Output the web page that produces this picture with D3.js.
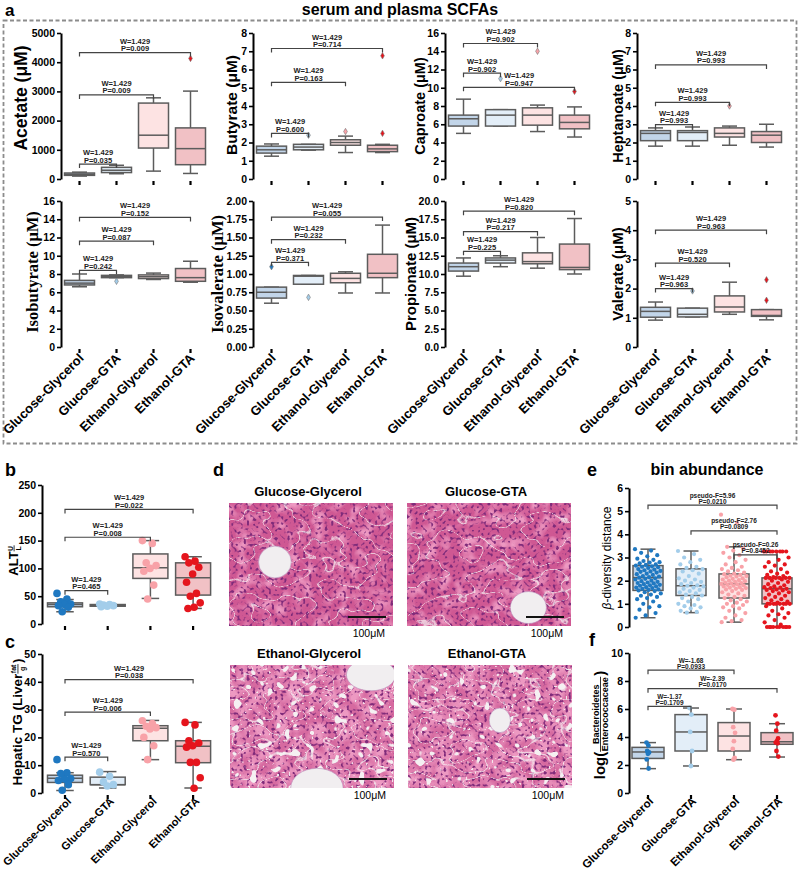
<!DOCTYPE html>
<html>
<head>
<meta charset="utf-8">
<script src="https://cdn.jsdelivr.net/npm/d3@7"></script>
<style>
  body { margin: 0; background: #fff; }
  svg { font-family: "Liberation Sans", Arial, sans-serif; }
</style>
</head>
<body>
<svg id="fig" width="800" height="870"></svg>
<script>
// ---------- data ----------
var groups = ["Glucose-Glycerol", "Glucose-GTA", "Ethanol-Glycerol", "Ethanol-GTA"];
var W = "W=1.429";

// box stats per group: [low whisker, q1, median, q3, high whisker]
var acetateStats = [[100, 125, 160, 205, 235], [180, 220, 300, 400, 470], [270, 1060, 1500, 2600, 2780], [190, 490, 1040, 1750, 3010]];
var acetateOut = [[], [], [], [4130]];
var acetateBr = [[0, 1, 510, W, "P=0.035"], [0, 2, 2880, W, "P=0.009"], [0, 3, 4330, W, "P=0.009"]];

var butyrateStats = [[1.25, 1.42, 1.6, 1.8, 1.92], [1.58, 1.6, 1.75, 1.9, 1.9], [1.45, 1.85, 2.0, 2.15, 2.35], [1.45, 1.5, 1.65, 1.85, 1.9]];
var butyrateOut = [[], [2.4], [2.6], [2.5, 6.75]];
var butyrateBr = [[0, 1, 2.5, W, "P=0.600"], [0, 2, 5.3, W, "P=0.163"], [0, 3, 7.15, W, "P=0.714"]];

var caproateStats = [[5.0, 5.8, 6.6, 7.0, 8.75], [5.8, 5.8, 7.0, 7.6, 7.6], [5.2, 5.9, 7.0, 7.8, 8.1], [4.6, 5.5, 6.2, 7.0, 7.9]];
var caproateOut = [[], [11.0], [14.0], [9.6]];
var caproateBr = [[0, 2, 14.85, W, "P=0.902"], [0, 1, 11.6, W, "P=0.902"], [0, 3, 10.05, W, "P=0.947"]];

var heptanoateStats = [[1.8, 2.1, 2.5, 2.65, 2.8], [1.8, 2.1, 2.55, 2.65, 2.85], [1.85, 2.3, 2.5, 2.8, 2.9], [1.75, 2.0, 2.4, 2.6, 3.0]];
var heptanoateOut = [[], [], [4.0], []];
var heptanoateBr = [[0, 1, 2.98, W, "P=0.993"], [0, 2, 4.2, W, "P=0.993"], [0, 3, 6.25, W, "P=0.993"]];

var isobutyrateStats = [[6.6, 6.8, 7.0, 7.3, 8.0], [7.6, 7.6, 7.7, 7.85, 7.9], [7.4, 7.5, 7.7, 7.9, 8.1], [7.1, 7.2, 7.6, 8.6, 9.4]];
var isobutyrateOut = [[], [7.2], [], []];
var isobutyrateBr = [[0, 1, 8.4, W, "P=0.242"], [0, 2, 11.6, W, "P=0.087"], [0, 3, 14.2, W, "P=0.152"]];

var isovalerateStats = [[0.6, 0.67, 0.75, 0.82, 0.82], [0.86, 0.86, 0.97, 0.98, 0.98], [0.74, 0.88, 0.94, 1.01, 1.03], [0.74, 0.95, 1.01, 1.27, 1.67]];
var isovalerateOut = [[1.1], [0.68], [], []];
var isovalerateBr = [[0, 1, 1.16, W, "P=0.371"], [0, 2, 1.47, W, "P=0.232"], [0, 3, 1.78, W, "P=0.055"]];

var propionateStats = [[9.7, 10.4, 11.0, 11.5, 12.2], [11.0, 11.5, 11.9, 12.2, 12.5], [10.8, 11.4, 11.7, 12.9, 15.0], [10.0, 10.6, 10.9, 14.1, 17.6]];
var propionateOut = [[], [], [], []];
var propionateBr = [[0, 1, 13.1, W, "P=0.225"], [0, 2, 15.8, W, "P=0.217"], [0, 3, 18.6, W, "P=0.820"]];

var valerateStats = [[0.92, 1.02, 1.22, 1.36, 1.54], [1.03, 1.03, 1.12, 1.33, 1.33], [1.12, 1.2, 1.37, 1.75, 2.22], [0.93, 1.05, 1.08, 1.28, 1.28]];
var valerateOut = [[], [1.92], [], [1.6, 2.3]];
var valerateBr = [[0, 1, 2.0, W, "P=0.963"], [0, 2, 2.87, W, "P=0.520"], [0, 3, 4.0, W, "P=0.963"]];

// b: ALT
var altStats = [[22, 31, 35, 38, 44], [31, 32, 33, 35, 36], [46, 82, 101, 126, 150], [28, 52, 83, 110, 121]];
var altPoints = [[55, 45, 40, 36, 35, 33, 30, 22], [36, 35, 34, 33, 32, 31], [150, 145, 110, 105, 100, 95, 70, 45], [121, 113, 110, 102, 90, 75, 55, 50, 38, 30, 28]];
var altBr = [[0, 1, 60, W, "P=0.465"], [0, 2, 156, W, "P=0.008"], [0, 3, 206, W, "P=0.022"]];

// c: hepatic TG
var tgStats = [[0.9, 3.8, 5.3, 6.4, 7.3], [1.8, 3.0, 3.0, 5.7, 7.7], [12, 18.8, 23.3, 24.2, 26.1], [1.8, 10.9, 16.8, 18.8, 25.4]];
var tgPoints = [[12, 7.3, 7, 5.2, 5, 4.5, 3, 1], [7.5, 6, 4, 3, 2.5], [26, 25, 24, 23.5, 23, 20, 17, 12], [25.4, 24.5, 18.8, 18, 17, 16.5, 11, 11, 5.5, 1.7]];
var tgBr = [[0, 1, 12.9, W, "P=0.570"], [0, 2, 29.1, W, "P=0.006"], [0, 3, 40.8, W, "P=0.038"]];

// e: beta-diversity distance
var betaStats = [[0.4, 1.58, 2.13, 2.65, 3.36], [0.62, 1.36, 1.78, 2.51, 3.28], [0.21, 1.25, 1.86, 2.29, 3.46], [0, 1.0, 1.65, 2.12, 3.26]];
var betaPoints = [
  [3.36, 3.3, 3.2, 3.1, 3.05, 2.95, 2.9, 2.85, 2.8, 2.78, 2.75, 2.7, 2.68, 2.65, 2.62, 2.6, 2.58, 2.55, 2.5, 2.48, 2.45, 2.42, 2.4, 2.38, 2.35, 2.3, 2.28, 2.25, 2.2, 2.18, 2.15, 2.13, 2.1, 2.08, 2.05, 2.0, 1.98, 1.95, 1.92, 1.9, 1.88, 1.85, 1.82, 1.8, 1.78, 1.75, 1.72, 1.7, 1.68, 1.65, 1.62, 1.6, 1.58, 1.55, 1.5, 1.45, 1.4, 1.35, 1.3, 1.25, 1.2, 1.1, 1.0, 0.9, 0.85, 0.75, 0.6, 0.5, 0.4],
  [3.28, 3.15, 3.0, 2.9, 2.8, 2.7, 2.6, 2.55, 2.5, 2.45, 2.4, 2.3, 2.2, 2.1, 2.05, 2.0, 1.95, 1.9, 1.85, 1.8, 1.78, 1.75, 1.7, 1.65, 1.6, 1.55, 1.5, 1.45, 1.4, 1.36, 1.3, 1.25, 1.2, 1.1, 1.0, 0.95, 0.9, 0.85, 0.8, 0.7, 0.65, 0.62],
  [4.85, 4.5, 3.46, 3.4, 3.3, 3.2, 3.1, 3.0, 2.9, 2.8, 2.7, 2.6, 2.55, 2.5, 2.45, 2.4, 2.35, 2.3, 2.28, 2.25, 2.22, 2.2, 2.18, 2.15, 2.1, 2.08, 2.05, 2.02, 2.0, 1.98, 1.95, 1.92, 1.9, 1.88, 1.86, 1.84, 1.82, 1.8, 1.78, 1.75, 1.72, 1.7, 1.68, 1.65, 1.62, 1.6, 1.55, 1.5, 1.45, 1.4, 1.35, 1.3, 1.25, 1.2, 1.15, 1.1, 1.05, 1.0, 0.95, 0.9, 0.85, 0.8, 0.7, 0.6, 0.5, 0.4, 0.3, 0.25, 0.21],
  [3.26, 3.26, 3.26, 3.26, 3.26, 3.26, 3.26, 3.26, 3.0, 2.9, 2.8, 2.7, 2.65, 2.6, 2.5, 2.4, 2.35, 2.3, 2.25, 2.2, 2.15, 2.12, 2.12, 2.12, 2.12, 2.12, 2.12, 2.05, 2.0, 1.95, 1.9, 1.85, 1.8, 1.75, 1.72, 1.7, 1.68, 1.65, 1.62, 1.6, 1.58, 1.55, 1.5, 1.45, 1.4, 1.35, 1.3, 1.25, 1.2, 1.15, 1.1, 1.05, 1.0, 1.0, 1.0, 1.0, 1.0, 1.0, 1.0, 1.0, 0.9, 0.8, 0.7, 0.6, 0.55, 0.5, 0.4, 0.3, 0.2, 0.1, 0, 0, 0, 0, 0, 0, 0, 0, 0, 0]
];
var betaBr = [[0, 3, 5.26, "pseudo-F=5.96", "P=0.0210"], [1, 3, 4.15, "pseudo-F=2.76", "P=0.0809"], [2, 3, 3.11, "pseudo-F=0.26", "P=0.8452"]];

// f: log(Bacteroidetes / Enterococcaceae)
var ratioStats = [[1.74, 2.47, 2.93, 3.26, 3.6], [1.93, 3.0, 4.36, 5.6, 6.07], [2.38, 3.0, 4.07, 5.03, 6.0], [2.57, 3.48, 3.66, 4.31, 4.95]];
var ratioPoints = [[3.6, 3.4, 3.0, 2.9, 2.8, 2.4, 1.75], [6.07, 5.6, 4.36, 3.0, 1.93], [6.0, 5.95, 4.7, 4.3, 3.7, 3.15, 2.5, 2.38], [5.55, 4.95, 4.45, 3.9, 3.7, 3.6, 3.55, 3.0, 2.6]];
var ratioBr = [[0, 1, 6.19, "W=-1.37", "P=0.1709"], [0, 3, 7.45, "W=-2.39", "P=0.0170"], [0, 2, 8.77, "W=-1.68", "P=0.0933"]];

// d: histology panels
var photoTitles = ["Glucose-Glycerol", "Glucose-GTA", "Ethanol-Glycerol", "Ethanol-GTA"];
var scaleText = "100μM";

// ---------- style / layout ----------
var sans = "Liberation Sans, Arial, sans-serif";
var serif = "Liberation Serif, Times New Roman, serif";
var fills = ["#c2d5e9", "#e3eef8", "#fde3e3", "#f1c1c5"];
var dots = ["#1f78c1", "#a3cdea", "#f8a2a8", "#e5151d"];
var boxStroke = "#5c5c5c";

var svg = d3.select("#fig");
var defs = svg.append("defs");

function drawBoxPanel(p) {
  var g = svg.append("g");
  var y = d3.scaleLinear().domain(p.domain).range([p.bottom, p.top]);
  var x = d3.scalePoint().domain(groups).range([p.x0, p.x0 + 3 * p.gap]);
  var ticks = d3.range(p.domain[0], p.domain[1] + p.tick / 2, p.tick);

  var ax = g.append("g")
    .attr("transform", "translate(" + p.axisX + ",0)")
    .call(d3.axisLeft(y).tickValues(ticks).tickFormat(d3.format(p.fmt)).tickSize(4).tickSizeOuter(0).tickPadding(2))
    .attr("font-family", sans).attr("font-size", 10.5).attr("font-weight", "bold");
  ax.select(".domain").attr("stroke", "#000").attr("stroke-width", 2);
  ax.selectAll(".tick line").attr("stroke", "#000").attr("stroke-width", 1.6);
  ax.selectAll(".tick text").attr("fill", "#000");

  if (p.catTicks) {
    g.selectAll(".ct").data(groups).join("line")
      .attr("x1", d => x(d)).attr("x2", d => x(d))
      .attr("y1", p.bottom + 2).attr("y2", p.bottom + 6)
      .attr("stroke", "#000").attr("stroke-width", 2.2);
  }

  var items = p.stats.map(function (s, i) { return { g: groups[i], s: s, i: i }; });
  var cap = p.boxW * 0.5;
  var bx = g.selectAll(".bx").data(items).join("g");
  bx.append("line")
    .attr("x1", d => x(d.g)).attr("x2", d => x(d.g))
    .attr("y1", d => y(d.s[4])).attr("y2", d => y(d.s[0]))
    .attr("stroke", boxStroke).attr("stroke-width", 1.5);
  [0, 4].forEach(function (k) {
    bx.append("line")
      .attr("x1", d => x(d.g) - cap / 2).attr("x2", d => x(d.g) + cap / 2)
      .attr("y1", d => y(d.s[k])).attr("y2", d => y(d.s[k]))
      .attr("stroke", boxStroke).attr("stroke-width", 1.5);
  });
  bx.append("rect")
    .attr("x", d => x(d.g) - p.boxW / 2).attr("y", d => y(d.s[3]))
    .attr("width", p.boxW).attr("height", d => Math.max(1, y(d.s[1]) - y(d.s[3])))
    .attr("fill", d => fills[d.i]).attr("stroke", boxStroke).attr("stroke-width", 1.5);
  bx.append("line")
    .attr("x1", d => x(d.g) - p.boxW / 2).attr("x2", d => x(d.g) + p.boxW / 2)
    .attr("y1", d => y(d.s[2])).attr("y2", d => y(d.s[2]))
    .attr("stroke", boxStroke).attr("stroke-width", 1.5);

  if (p.points) {
    p.points.forEach(function (vals, i) {
      g.append("g").selectAll("circle").data(vals).join("circle")
        .attr("cx", (v, k) => x(groups[i]) + ((k * 0.618034) % 1 - 0.5) * p.spread)
        .attr("cy", v => y(v)).attr("r", p.r).attr("fill", dots[i]);
    });
  }
  if (p.out) {
    p.out.forEach(function (vals, i) {
      g.append("g").selectAll("path").data(vals).join("path")
        .attr("transform", v => "translate(" + x(groups[i]) + "," + y(v) + ")")
        .attr("d", d3.symbol(d3.symbolDiamond, 12))
        .attr("fill", dots[i]).attr("stroke", "#777").attr("stroke-width", 0.6);
    });
  }

  var bk = g.selectAll(".bk").data(p.br).join("g");
  bk.append("path")
    .attr("d", b => "M" + x(groups[b[0]]) + "," + (y(b[2]) + 4) + "V" + y(b[2]) +
      "H" + x(groups[b[1]]) + "V" + (y(b[2]) + 4))
    .attr("fill", "none").attr("stroke", "#444").attr("stroke-width", 1.2);
  [3, 4].forEach(function (k, j) {
    bk.append("text")
      .attr("x", b => (x(groups[b[0]]) + x(groups[b[1]])) / 2)
      .attr("y", b => y(b[2]) - 1.5 - (1 - j) * p.brLine)
      .attr("text-anchor", "middle").attr("font-size", p.brFont).attr("font-weight", "bold")
      .attr("fill", "#222").text(b => b[k]);
  });

  if (p.xLabels) {
    g.selectAll(".xl").data(groups).join("text")
      .attr("transform", d => "translate(" + (x(d) + p.xlDx) + "," + (p.bottom + p.xlDy) + ") rotate(-45)")
      .attr("text-anchor", "end").attr("font-size", p.xlSize).attr("font-weight", "bold")
      .text(d => d);
  }
}

function yLabel(x, y, text, size, family) {
  svg.append("text")
    .attr("transform", "translate(" + x + "," + y + ") rotate(-90)")
    .attr("text-anchor", "middle").attr("font-size", size).attr("font-weight", "bold")
    .attr("font-family", family || sans).text(text);
}

// label with a stacked fraction, e.g. ALT U/L
function fracLabel(cx, cy, parts, mainSize) {
  var g = svg.append("g").attr("transform", "translate(" + cx + "," + cy + ") rotate(-90)");
  var inner = g.append("g").attr("font-weight", "bold");
  var pos = 0, axisY = -mainSize * 0.3;
  parts.forEach(function (pt) {
    if (pt.num) {
      var n = inner.append("text").attr("font-size", pt.size).attr("y", axisY - 1.5).text(pt.num);
      var dn = inner.append("text").attr("font-size", pt.size).attr("y", axisY + 1.5 + pt.size * 0.72).text(pt.den);
      var w = Math.max(n.node().getComputedTextLength(), dn.node().getComputedTextLength()) + 1;
      n.attr("x", pos + w / 2).attr("text-anchor", "middle");
      dn.attr("x", pos + w / 2).attr("text-anchor", "middle");
      inner.append("line").attr("x1", pos).attr("x2", pos + w)
        .attr("y1", axisY).attr("y2", axisY).attr("stroke", "#000").attr("stroke-width", 0.8);
      pos += w + 1;
    } else {
      var t = inner.append("text").attr("x", pos).attr("font-size", pt.size).text(pt.t);
      pos += t.node().getComputedTextLength();
    }
  });
  inner.attr("transform", "translate(" + (-pos / 2) + ",0)");
}

// ---------- panel a ----------
svg.append("rect").attr("x", 3.5).attr("y", 20.5).attr("width", 793).attr("height", 423)
  .attr("fill", "none").attr("stroke", "#8c8c8c").attr("stroke-width", 1.8).attr("stroke-dasharray", "4,2.5");

var panelsA = [
  { stats: acetateStats, out: acetateOut, br: acetateBr, label: "Acetate (μM)", domain: [0, 5000], tick: 1000, fmt: "d" },
  { stats: butyrateStats, out: butyrateOut, br: butyrateBr, label: "Butyrate (μM)", domain: [0, 8], tick: 1, fmt: "d" },
  { stats: caproateStats, out: caproateOut, br: caproateBr, label: "Caproate (μM)", domain: [0, 16], tick: 2, fmt: "d" },
  { stats: heptanoateStats, out: heptanoateOut, br: heptanoateBr, label: "Heptanoate (μM)", domain: [0, 8], tick: 1, fmt: "d" },
  { stats: isobutyrateStats, out: isobutyrateOut, br: isobutyrateBr, label: "Isobutyrate (μM)", domain: [0, 16], tick: 2, fmt: "d" },
  { stats: isovalerateStats, out: isovalerateOut, br: isovalerateBr, label: "Isovalerate (μM)", domain: [0, 2], tick: 0.25, fmt: ".2f" },
  { stats: propionateStats, out: propionateOut, br: propionateBr, label: "Propionate (μM)", domain: [0, 20], tick: 2.5, fmt: ".1f" },
  { stats: valerateStats, out: valerateOut, br: valerateBr, label: "Valerate (μM)", domain: [0, 5], tick: 1, fmt: "d" }
];
var colAxisX = [61, 253, 445, 637];
var rowTop = [33, 201], rowBottom = [179, 347];
var labelX = [27, 237, 425, 623, 38, 223, 416, 623];
var labelY = [98, 105, 106, 106, 272, 274, 274, 274];
var labelSize = [17.5, 15.5, 14.5, 14.5, 16.5, 16.5, 15, 15];

panelsA.forEach(function (p, i) {
  var col = i % 4, row = Math.floor(i / 4);
  p.axisX = colAxisX[col];
  p.x0 = colAxisX[col] + 18.5;
  p.gap = 37;
  p.boxW = 30;
  p.top = rowTop[row];
  p.bottom = rowBottom[row];
  p.catTicks = true;
  p.brFont = 7.5;
  p.brLine = 7.5;
  p.xLabels = row === 1;
  p.xlDx = 5; p.xlDy = 12; p.xlSize = 13;
  drawBoxPanel(p);
  yLabel(labelX[i], labelY[i], p.label, labelSize[i], (i === 4 || i === 5) ? serif : sans);
});

svg.append("text").attr("x", 5).attr("y", 16).attr("font-size", 17).attr("font-weight", "bold").text("a");
svg.append("text").attr("x", 400).attr("y", 15).attr("text-anchor", "middle")
  .attr("font-size", 16).attr("font-weight", "bold").text("serum and plasma SCFAs");

// ---------- panels b, c ----------
drawBoxPanel({ stats: altStats, points: altPoints, br: altBr, domain: [0, 250], tick: 50, fmt: "d",
  axisX: 42, x0: 65, gap: 42.7, boxW: 35, top: 485, bottom: 624, catTicks: true,
  r: 3.8, spread: 16, brFont: 7.5, brLine: 7.5 });
drawBoxPanel({ stats: tgStats, points: tgPoints, br: tgBr, domain: [0, 50], tick: 10, fmt: "d",
  axisX: 42, x0: 65, gap: 42.7, boxW: 35, top: 654, bottom: 793, catTicks: true,
  xLabels: true, xlDx: 7, xlDy: 9, xlSize: 11,
  r: 3.8, spread: 16, brFont: 7.5, brLine: 7.5 });
fracLabel(18, 560, [{ t: "ALT ", size: 13 }, { num: "U", den: "L", size: 7 }], 13);
fracLabel(22, 722, [{ t: "Hepatic TG (Liver ", size: 13.5 }, { num: "fat", den: "g", size: 7 }, { t: ")", size: 13.5 }], 13.5);
svg.append("text").attr("x", 5).attr("y", 476).attr("font-size", 18).attr("font-weight", "bold").text("b");
svg.append("text").attr("x", 5).attr("y", 648).attr("font-size", 18).attr("font-weight", "bold").text("c");

// ---------- panels e, f ----------
svg.append("text").attr("x", 707).attr("y", 475).attr("text-anchor", "middle")
  .attr("font-size", 16).attr("font-weight", "bold").text("bin abundance");
drawBoxPanel({ stats: betaStats, points: betaPoints, br: betaBr, domain: [0, 6], tick: 1, fmt: "d",
  axisX: 629, x0: 648, gap: 43, boxW: 30, top: 488, bottom: 627,
  r: 2.1, spread: 26, brFont: 6.5, brLine: 6 });
drawBoxPanel({ stats: ratioStats, points: ratioPoints, br: ratioBr, domain: [0, 10], tick: 2, fmt: "d",
  axisX: 629, x0: 648, gap: 43, boxW: 32, top: 653, bottom: 793, catTicks: true,
  xLabels: true, xlDx: 6, xlDy: 9, xlSize: 11.5,
  r: 2.4, spread: 3, brFont: 6.5, brLine: 6 });
svg.append("text")
  .attr("transform", "translate(611,558) rotate(-90)")
  .attr("text-anchor", "middle").attr("font-size", 12)
  .call(function (t) {
    t.append("tspan").attr("font-style", "italic").text("β");
    t.append("tspan").text("-diversity distance");
  });
fracLabel(605, 725, [{ t: "log(", size: 15 }, { num: "Bacteroidetes", den: "Enterococcaceae", size: 9 }, { t: ")", size: 15 }], 15);
svg.append("text").attr("x", 587).attr("y", 476).attr("font-size", 18).attr("font-weight", "bold").text("e");
svg.append("text").attr("x", 589).attr("y", 646).attr("font-size", 18).attr("font-weight", "bold").text("f");

// ---------- panel d: H&E micrographs ----------
function noiseLayer(f, freq, oct, seed, name) {
  f.append("feTurbulence").attr("type", "fractalNoise").attr("baseFrequency", freq).attr("numOctaves", oct)
    .attr("seed", seed).attr("result", name + "n");
}
function whiteMask(f, src, table, name) {
  f.append("feColorMatrix").attr("in", src).attr("type", "matrix")
    .attr("values", "0 0 0 0 0.96  0 0 0 0 0.94  0 0 0 0 0.95  1 0 0 0 0").attr("result", name + "a");
  f.append("feComponentTransfer").attr("in", name + "a").attr("result", name)
    .append("feFuncA").attr("type", "table").attr("tableValues", table.join(" "));
}
function heFilter(id, seed, fat) {
  var f = defs.append("filter").attr("id", id).attr("x", 0).attr("y", 0).attr("width", 1).attr("height", 1)
    .attr("color-interpolation-filters", "sRGB");
  f.append("feFlood").attr("flood-color", fat ? "#d66aa0" : "#cf5893").attr("result", "base");
  noiseLayer(f, 0.08, 2, seed, "l");
  f.append("feColorMatrix").attr("in", "ln").attr("type", "matrix")
    .attr("values", "0 0 0 0 0.93  0 0 0 0 0.6  0 0 0 0 0.76  3 0 0 0 " + (fat ? -1.05 : -1.35)).attr("result", "light");
  noiseLayer(f, 0.32, 1, seed + 7, "k");
  f.append("feColorMatrix").attr("in", "kn").attr("type", "matrix")
    .attr("values", "0 0 0 0 0.5  0 0 0 0 0.17  0 0 0 0 0.48  -6 0 0 0 2.75").attr("result", "nuc");
  noiseLayer(f, "0.03 0.05", 2, seed + 13, "s");
  var ts = [];
  for (var k = 0; k <= 60; k++) ts.push(k === 30 ? 0.8 : 0);
  whiteMask(f, "sn", ts, "sin");
  var layers = ["base", "light", "nuc", "sin"];
  if (fat) {
    noiseLayer(f, 0.12, 1, seed + 21, "d");
    var tf = [];
    for (var j = 0; j < 20; j++) tf.push(j >= 13 ? 1 : 0);
    whiteMask(f, "dn", tf, "fat");
    noiseLayer(f, 0.35, 1, seed + 31, "v");
    var tv = [];
    for (var m2 = 0; m2 < 20; m2++) tv.push(m2 >= 14 ? 0.9 : 0);
    whiteMask(f, "vn", tv, "vac");
    layers.push("fat", "vac");
  }
  var m = f.append("feMerge");
  layers.forEach(function (l) { m.append("feMergeNode").attr("in", l); });
}

var photoPos = [[229, 503], [407, 503], [230, 665], [408, 665]];
var photoW = 164, photoH = 123;
var photoSeed = [3, 11, 29, 47];
// central veins, as fractions of the photo: [cx, cy, rx, ry]
var photoVeins = [[[0.28, 0.48, 0.1, 0.13]], [[0.74, 0.85, 0.11, 0.13]],
  [[0.86, 0.08, 0.15, 0.13], [0.53, 1.0, 0.16, 0.16]], [[0.56, 0.45, 0.065, 0.1]]];

photoTitles.forEach(function (title, i) {
  var px = photoPos[i][0], py = photoPos[i][1];
  var fat = i >= 2;
  heFilter("he" + i, photoSeed[i], fat);
  defs.append("clipPath").attr("id", "clip" + i).append("rect")
    .attr("x", px).attr("y", py).attr("width", photoW).attr("height", photoH);
  var pg = svg.append("g").attr("clip-path", "url(#clip" + i + ")");
  pg.append("rect").attr("x", px).attr("y", py).attr("width", photoW).attr("height", photoH)
    .attr("fill", "#d5649a").attr("filter", "url(#he" + i + ")");
  pg.selectAll("ellipse").data(photoVeins[i]).join("ellipse")
    .attr("cx", v => px + v[0] * photoW).attr("cy", v => py + v[1] * photoH)
    .attr("rx", v => v[2] * photoW).attr("ry", v => v[3] * photoH)
    .attr("fill", "#f1eef0").attr("stroke", "#b98ab8").attr("stroke-width", 0.6);
  pg.append("line").attr("x1", px + photoW - 45).attr("x2", px + photoW - 7)
    .attr("y1", py + photoH - 9).attr("y2", py + photoH - 9)
    .attr("stroke", "#111").attr("stroke-width", 2);
  svg.append("text").attr("x", px + photoW / 2 - 3).attr("y", py - 7).attr("text-anchor", "middle")
    .attr("font-size", 13).attr("font-weight", "bold").text(title);
  svg.append("text").attr("x", px + photoW - 8).attr("y", py + photoH + 11).attr("text-anchor", "end")
    .attr("font-size", 10.5).text(scaleText);
});
svg.append("text").attr("x", 213).attr("y", 476).attr("font-size", 18).attr("font-weight", "bold").text("d");
</script>
</body>
</html>
